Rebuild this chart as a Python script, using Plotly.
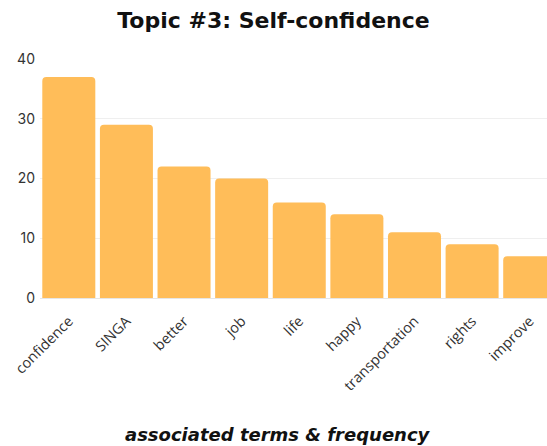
import plotly.graph_objects as go

terms = ["confidence", "SINGA", "better", "job", "life", "happy", "transportation", "rights", "improve"]
freq = [37, 29, 22, 20, 16, 14, 11, 9, 7]

fig = go.Figure(go.Bar(
    x=terms, y=freq,
    marker=dict(color="#FFBD59", line=dict(width=0)),
    hoverinfo="x+y",
))

fig.update_layout(
    width=547, height=446,
    margin=dict(l=40, r=0, t=59, b=148),
    paper_bgcolor="white", plot_bgcolor="white",
    bargap=0.08,
    barcornerradius=4,
    showlegend=False,
    title=dict(text="<b>Topic #3: Self-confidence</b>", x=0.5, xanchor="center",
               y=0.955, yanchor="middle", yref="container",
               font=dict(family="DejaVu Sans", size=22, color="#111")),
    annotations=[dict(text="<b><i>associated terms &amp; frequency</i></b>", xref="paper", yref="paper",
                      x=0.47, y=-0.57, xanchor="center", yanchor="middle", showarrow=False,
                      font=dict(family="DejaVu Sans", size=18, color="#111"))],
)
fig.update_xaxes(type="category", range=[-0.5, 8.3], tickangle=-45,
                 tickfont=dict(family="Open Sans", size=14.5, color="#333"),
                 ticklabelstandoff=8,
                 showline=True, linecolor="#e6e6e6", linewidth=1, showgrid=False, ticks="")
fig.update_yaxes(range=[0, 40], dtick=10, showgrid=True, gridcolor="#efefef",
                 zeroline=False, tickfont=dict(family="Inter", size=14, color="#333"),
                 ticklabelstandoff=4)

fig.write_html("out.html")
